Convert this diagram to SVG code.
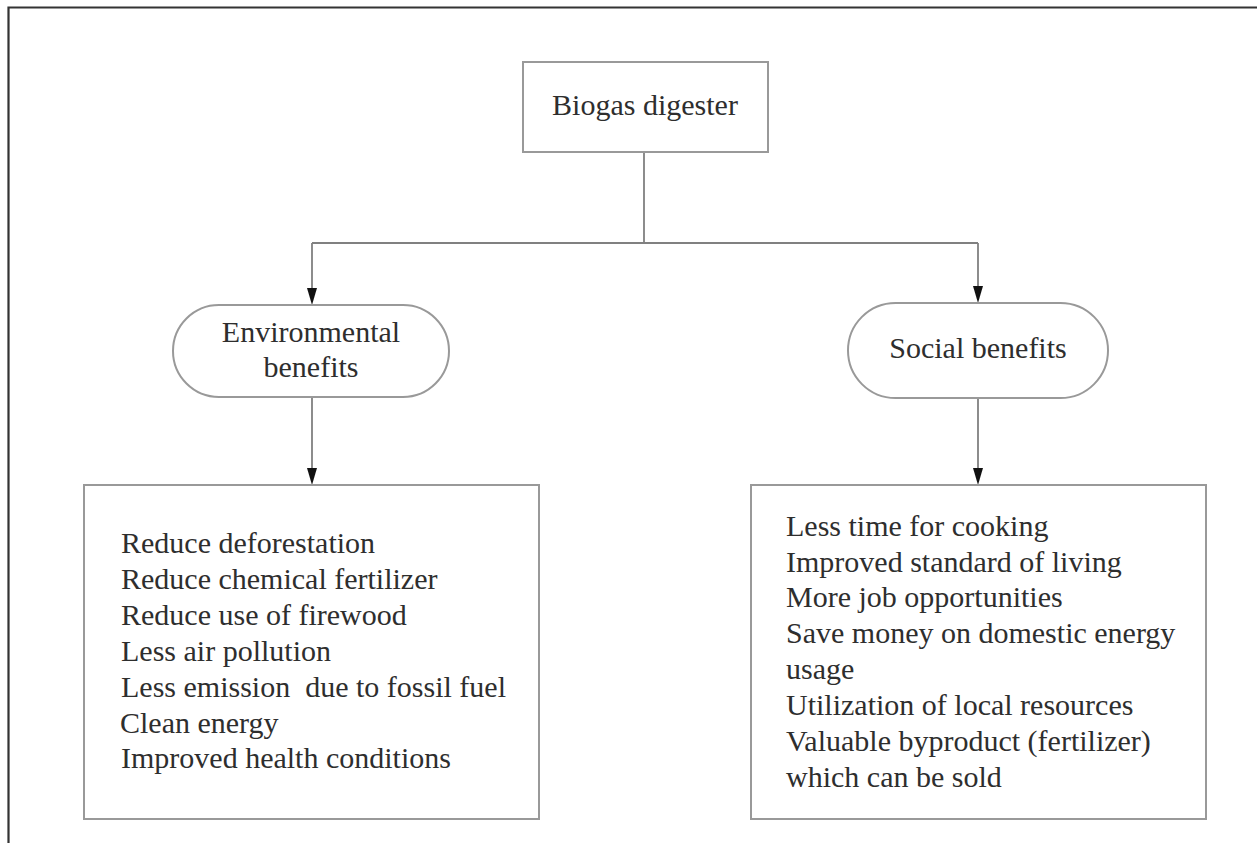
<svg xmlns="http://www.w3.org/2000/svg" width="1257" height="843" viewBox="0 0 1257 843">
<defs>
<style>
.box{fill:#fff;stroke:#999;stroke-width:2}
.t{font-family:"Liberation Serif","Times New Roman",serif;font-size:30px;fill:#2e2e2e}
.c{text-anchor:middle}
.ln{fill:none;stroke:#808080;stroke-width:1.8}
.ah{fill:#111}
</style>
</defs>
<rect width="1257" height="843" fill="#fff"/>
<path d="M8.5,843 V7.5 H1257" fill="none" stroke="#333" stroke-width="2.2"/>
<g id="connectors">
<path class="ln" d="M644,152 V243"/>
<path class="ln" d="M312,243 H978"/>
<path class="ln" d="M312,243 V288"/>
<path class="ah" d="M307,288 L317,288 L312,305 Z"/>
<path class="ln" d="M978,243 V286"/>
<path class="ah" d="M973,286 L983,286 L978,303 Z"/>
<path class="ln" d="M312,397 V468"/>
<path class="ah" d="M307,468 L317,468 L312,485 Z"/>
<path class="ln" d="M978,398 V468"/>
<path class="ah" d="M973,468 L983,468 L978,485 Z"/>
</g>
<g id="biogas">
<rect class="box" x="523" y="62" width="245" height="90"/>
<text class="t c" x="645" y="115">Biogas digester</text>
</g>
<g id="env">
<rect class="box" x="173" y="305" width="276" height="92" rx="46" ry="46"/>
<text class="t c" x="311" y="342">Environmental</text>
<text class="t c" x="311" y="377">benefits</text>
</g>
<g id="social">
<rect class="box" x="848" y="303" width="260" height="95" rx="47.5" ry="47.5"/>
<text class="t c" x="978" y="358">Social benefits</text>
</g>
<g id="env-list">
<rect class="box" x="84" y="485" width="455" height="334"/>
<text class="t" x="121" y="553">Reduce deforestation</text>
<text class="t" x="121" y="589">Reduce chemical fertilizer</text>
<text class="t" x="121" y="625">Reduce use of firewood</text>
<text class="t" x="121" y="661">Less air pollution</text>
<text class="t" x="121" y="697" xml:space="preserve">Less emission  due to fossil fuel</text>
<text class="t" x="120" y="733">Clean energy</text>
<text class="t" x="121" y="768">Improved health conditions</text>
</g>
<g id="social-list">
<rect class="box" x="751" y="485" width="455" height="334"/>
<text class="t" x="786" y="536">Less time for cooking</text>
<text class="t" x="786" y="572">Improved standard of living</text>
<text class="t" x="786" y="607">More job opportunities</text>
<text class="t" x="786" y="643">Save money on domestic energy</text>
<text class="t" x="786" y="679">usage</text>
<text class="t" x="786" y="715">Utilization of local resources</text>
<text class="t" x="786" y="751">Valuable byproduct (fertilizer)</text>
<text class="t" x="786" y="787">which can be sold</text>
</g>
</svg>
